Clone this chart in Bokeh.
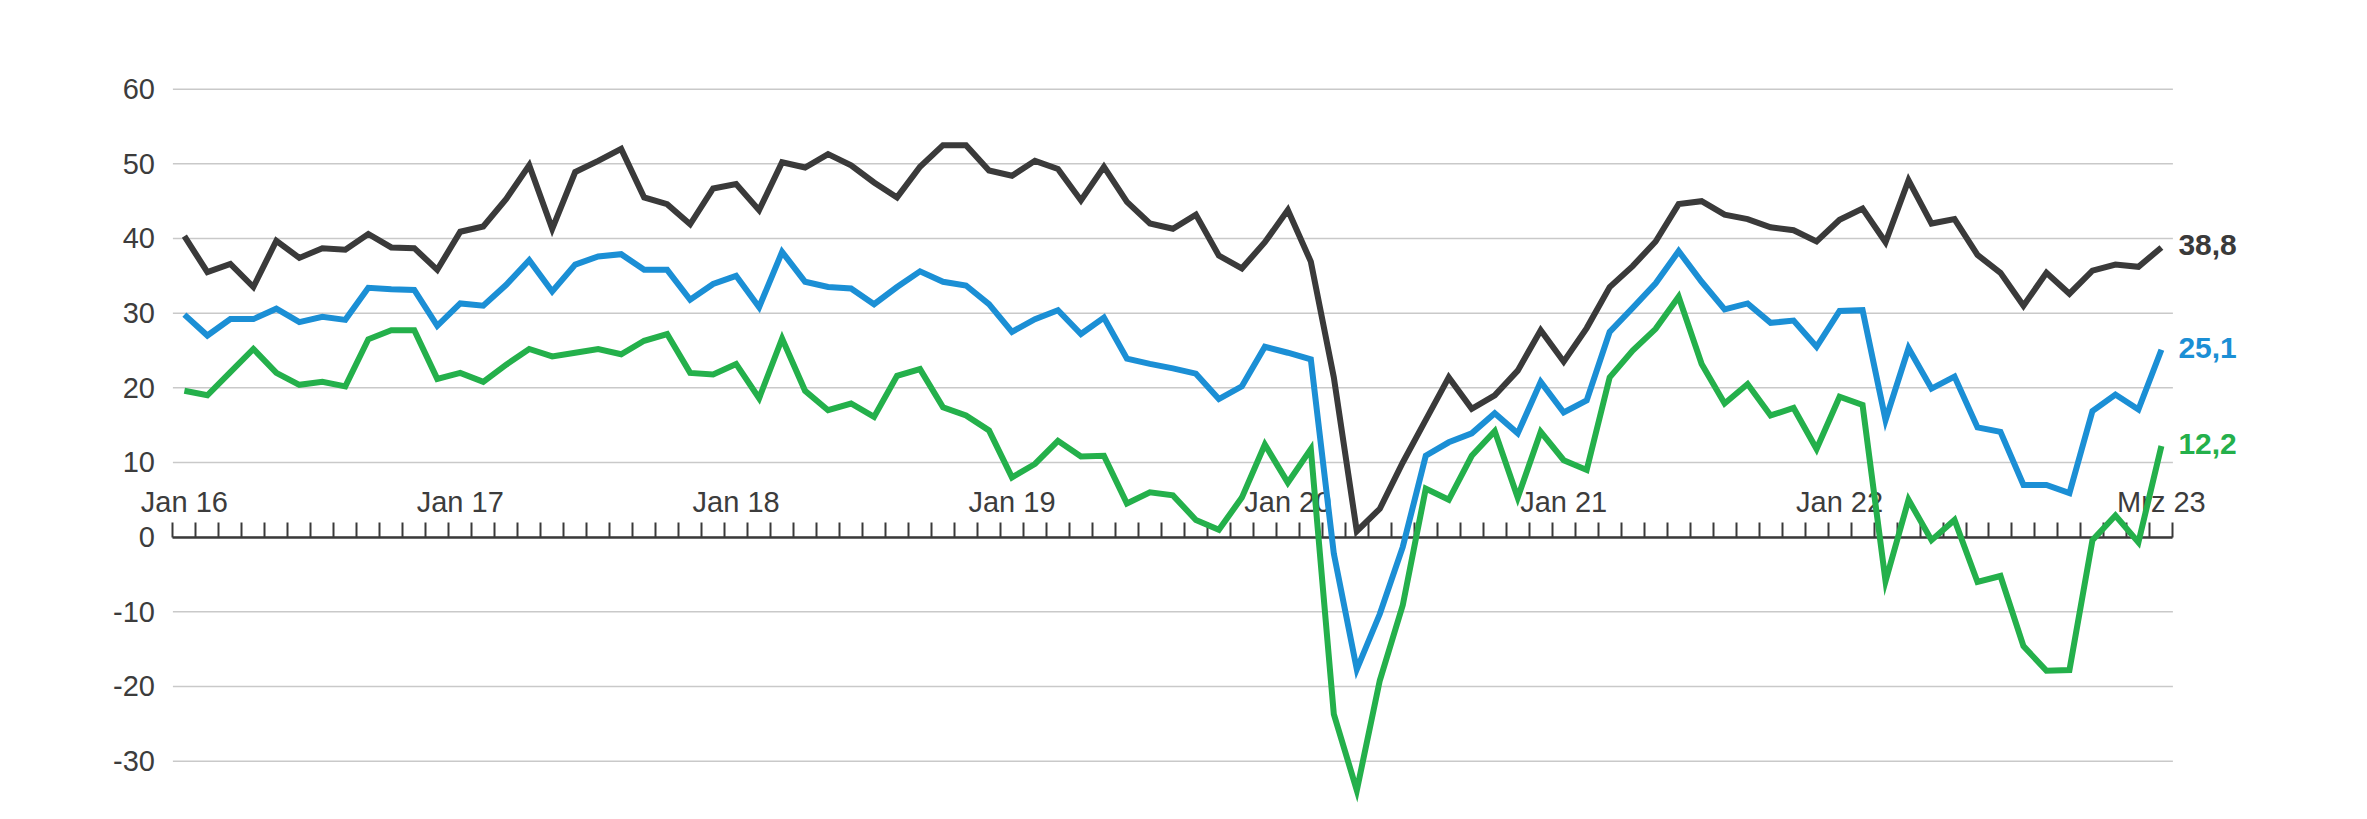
from bokeh.plotting import figure
from bokeh.models import Range1d, FixedTicker, LinearAxis, Label
from bokeh.embed import file_html
from bokeh.resources import INLINE

# ---- data (monthly, Jan 2016 .. Mrz 2023) ----
black = [40.3, 35.5, 36.6, 33.5, 39.7, 37.4, 38.7, 38.5, 40.6, 38.8, 38.7, 35.8, 40.9, 41.6,
         45.3, 49.8, 41.3, 48.9, 50.4, 52.0, 45.5, 44.6, 41.9, 46.7, 47.3, 43.8, 50.2, 49.5, 51.3,
         49.8, 47.5, 45.5, 49.6, 52.5, 52.5, 49.1, 48.4, 50.4, 49.3, 45.1, 49.6, 44.9, 42.0, 41.3,
         43.2, 37.7, 36.0, 39.5, 43.8, 36.9, 21.4, 0.8, 3.8, 10.0, 15.7, 21.4, 17.2, 19.0,
         22.3, 27.7, 23.5, 28.0, 33.5, 36.3, 39.6, 44.6, 45.0, 43.2, 42.6, 41.5, 41.1, 39.6, 42.5,
         44.0, 39.5, 47.8, 42.0, 42.6, 37.8, 35.4, 31.0, 35.4, 32.6, 35.7, 36.5, 36.2, 38.8]
blue = [29.8, 27.0, 29.2, 29.2, 30.6, 28.8, 29.5, 29.1, 33.4, 33.2, 33.1, 28.3, 31.3, 31.0,
        33.8, 37.1, 32.9, 36.5, 37.6, 37.9, 35.8, 35.8, 31.8, 33.9, 35.0, 30.8, 38.2, 34.2, 33.5,
        33.3, 31.2, 33.5, 35.6, 34.2, 33.7, 31.2, 27.5, 29.2, 30.4, 27.2, 29.4, 23.9, 23.2, 22.6,
        21.9, 18.5, 20.2, 25.5, 24.7, 23.8, -2.2, -17.7, -10.3, -1.3, 10.9, 12.7, 13.9, 16.6,
        13.9, 20.8, 16.7, 18.3, 27.5, 30.7, 34.0, 38.3, 34.2, 30.5, 31.3, 28.7, 29.0, 25.5, 30.3,
        30.4, 15.7, 25.3, 19.9, 21.5, 14.7, 14.1, 7.0, 7.0, 5.9, 16.9, 19.1, 17.1, 25.1]
green = [19.6, 19.0, 22.1, 25.2, 22.0, 20.4, 20.8, 20.2, 26.5, 27.7, 27.7, 21.2, 22.0, 20.8,
         23.1, 25.2, 24.2, 24.7, 25.2, 24.5, 26.3, 27.2, 22.0, 21.8, 23.2, 18.6, 26.6, 19.6, 17.0,
         17.9, 16.1, 21.6, 22.5, 17.4, 16.3, 14.3, 8.0, 9.8, 12.9, 10.8, 10.9, 4.5, 6.0, 5.6,
         2.3, 1.0, 5.3, 12.4, 7.3, 11.8, -23.7, -33.9, -19.2, -9.1, 6.5, 5.0, 10.9, 14.2,
         5.3, 14.1, 10.3, 9.0, 21.4, 25.0, 27.9, 32.2, 23.2, 17.9, 20.5, 16.3, 17.3, 11.8, 18.8,
         17.7, -5.9, 5.0, -0.4, 2.3, -6.0, -5.2, -14.6, -17.9, -17.8, -0.4, 2.9, -0.7, 12.2]

tick_label_text = ["Jan 16", "Jan 17", "Jan 18", "Jan 19", "Jan 20", "Jan 21", "Jan 22", "Mrz 23"]
tick_label_month = [0, 12, 24, 36, 48, 60, 72, 86]
y_ticks = [-30, -20, -10, 0, 10, 20, 30, 40, 50, 60]

# ---- styles / layout ----
C_BLACK = "#3a3a3a"
C_BLUE = "#1b8fd5"
C_GREEN = "#24b04b"
TXT = "#3c3c3c"
FONT = "Liberation Sans"

n = len(black)
xs = list(range(n))

W, H = 2360, 815
FL, FR, FT, FB = 98, 2348, 44, 805          # frame edges in px
AX_L, AX_R = 172.4, 2172.4                 # where month axis starts / ends in px
px_per_month = (AX_R - AX_L) / n
x_lo = -0.5 - (AX_L - FL) / px_per_month
x_hi = -0.5 + (FR - AX_L) / px_per_month

p = figure(width=W, height=H,
           x_range=Range1d(x_lo, x_hi), y_range=Range1d(-35.94, 65.98),
           output_backend="svg", toolbar_location=None,
           min_border_left=FL, min_border_right=W - FR, min_border_top=FT, min_border_bottom=H - FB)
p.outline_line_color = None
p.background_fill_color = "white"
p.border_fill_color = "white"
p.xgrid.visible = False
p.ygrid.visible = False

# horizontal grid lines limited to the month span
grid = p.segment(x0=[-0.5] * len(y_ticks), x1=[n - 0.5] * len(y_ticks), y0=y_ticks, y1=y_ticks,
                 line_color="#c9c9c9", line_width=1.5)
grid.level = "underlay"

yax = p.yaxis[0]
yax.fixed_location = -0.5
yax.ticker = FixedTicker(ticks=y_ticks)
yax.major_label_overrides = {v: str(v) for v in y_ticks}
yax.axis_line_color = None
yax.major_tick_line_color = None
yax.minor_tick_line_color = None
yax.major_tick_out = 0
yax.major_tick_in = 0
yax.major_label_standoff = 18
yax.major_label_text_font = FONT
yax.major_label_text_font_size = "29px"
yax.major_label_text_color = TXT

# month tick marks on the zero line
month_edges = [i - 0.5 for i in range(n + 1)]
xax = p.xaxis[0]
xax.fixed_location = 0
xax.bounds = (-0.5, n - 0.5)
xax.ticker = FixedTicker(ticks=month_edges)
xax.major_label_overrides = {t: "" for t in month_edges}
xax.major_tick_in = 15
xax.major_tick_out = 0
xax.major_tick_line_width = 2
xax.major_tick_line_color = C_BLACK
xax.minor_tick_line_color = None
xax.axis_line_width = 2.5
xax.axis_line_color = C_BLACK
xax.major_label_text_font_size = "1px"

# month labels above the zero line
lab_ax = LinearAxis(ticker=FixedTicker(ticks=tick_label_month),
                    major_label_overrides=dict(zip(tick_label_month, tick_label_text)),
                    fixed_location=0,
                    axis_line_color=None, major_tick_line_color=None, minor_tick_line_color=None,
                    major_tick_in=0, major_tick_out=0, major_label_standoff=-51,
                    major_label_text_font=FONT, major_label_text_font_size="29px",
                    major_label_text_color=TXT)
p.add_layout(lab_ax, "below")

for series, color in [(black, C_BLACK), (blue, C_BLUE), (green, C_GREEN)]:
    r = p.line(xs, series, line_width=6, line_color=color, line_join="miter")
    r.level = "annotation"

for series, color in [(black, C_BLACK), (blue, C_BLUE), (green, C_GREEN)]:
    p.add_layout(Label(x=n - 1, y=series[-1], x_offset=17, y_offset=2,
                       text=f"{series[-1]:.1f}".replace(".", ","),
                       text_baseline="middle", text_align="left",
                       text_font=FONT, text_font_size="30px", text_font_style="bold",
                       text_color=color))

open("out.html", "w").write(file_html(p, INLINE))
